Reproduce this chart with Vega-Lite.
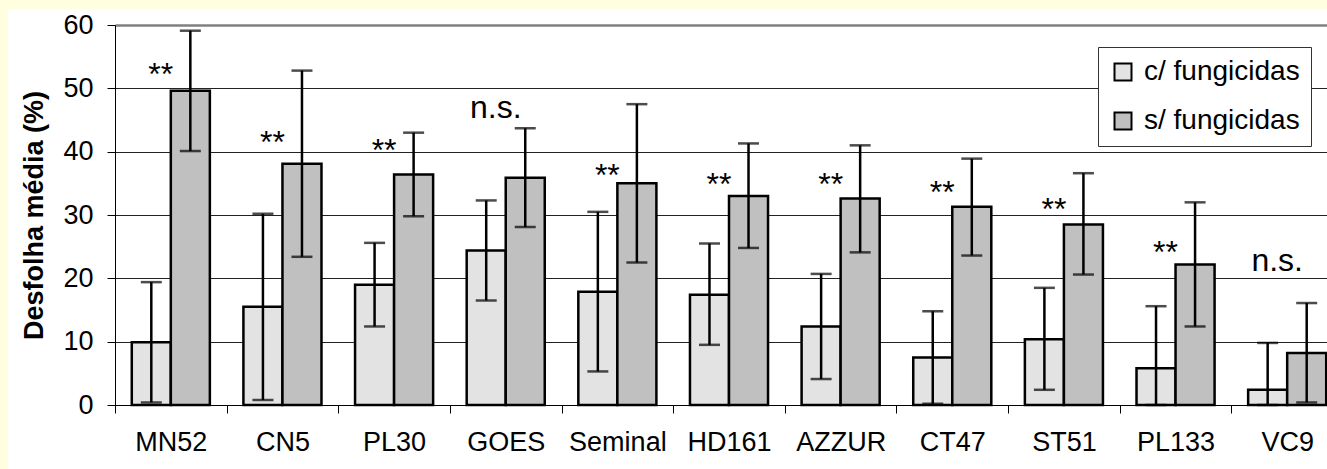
{
  "$schema": "https://vega.github.io/schema/vega-lite/v6.json",
  "width": 1319,
  "height": 460,
  "autosize": {"type": "none"},
  "padding": {"left": 8, "top": 9, "right": 0, "bottom": 0},
  "background": "#FFFFE0",
  "config": {
    "font": "Liberation Sans",
    "view": {"fill": "white", "stroke": null},
    "axis": {
      "domainColor": "black",
      "domainWidth": 1,
      "tickColor": "black",
      "tickWidth": 1,
      "tickSize": 8,
      "labelFont": "Liberation Sans",
      "labelFontSize": 27,
      "labelColor": "black",
      "titleFont": "Liberation Sans",
      "titleColor": "black"
    }
  },
  "datasets": {
    "barras": [
      {"cultivar": "MN52", "trat": "c/ fungicidas", "media": 9.9, "min": 0.4, "max": 19.4},
      {"cultivar": "MN52", "trat": "s/ fungicidas", "media": 49.6, "min": 40.1, "max": 59.1},
      {"cultivar": "CN5", "trat": "c/ fungicidas", "media": 15.5, "min": 0.8, "max": 30.2},
      {"cultivar": "CN5", "trat": "s/ fungicidas", "media": 38.1, "min": 23.4, "max": 52.8},
      {"cultivar": "PL30", "trat": "c/ fungicidas", "media": 19.0, "min": 12.4, "max": 25.6},
      {"cultivar": "PL30", "trat": "s/ fungicidas", "media": 36.4, "min": 29.8, "max": 43.0},
      {"cultivar": "GOES", "trat": "c/ fungicidas", "media": 24.4, "min": 16.5, "max": 32.3},
      {"cultivar": "GOES", "trat": "s/ fungicidas", "media": 35.9, "min": 28.1, "max": 43.7},
      {"cultivar": "Seminal", "trat": "c/ fungicidas", "media": 17.9, "min": 5.3, "max": 30.5},
      {"cultivar": "Seminal", "trat": "s/ fungicidas", "media": 35.0, "min": 22.5, "max": 47.5},
      {"cultivar": "HD161", "trat": "c/ fungicidas", "media": 17.4, "min": 9.5, "max": 25.5},
      {"cultivar": "HD161", "trat": "s/ fungicidas", "media": 33.0, "min": 24.8, "max": 41.3},
      {"cultivar": "AZZUR", "trat": "c/ fungicidas", "media": 12.4, "min": 4.1, "max": 20.7},
      {"cultivar": "AZZUR", "trat": "s/ fungicidas", "media": 32.6, "min": 24.1, "max": 41.0},
      {"cultivar": "CT47", "trat": "c/ fungicidas", "media": 7.5, "min": 0.2, "max": 14.8},
      {"cultivar": "CT47", "trat": "s/ fungicidas", "media": 31.3, "min": 23.6, "max": 38.9},
      {"cultivar": "ST51", "trat": "c/ fungicidas", "media": 10.4, "min": 2.4, "max": 18.5},
      {"cultivar": "ST51", "trat": "s/ fungicidas", "media": 28.5, "min": 20.6, "max": 36.6},
      {"cultivar": "PL133", "trat": "c/ fungicidas", "media": 5.8, "min": 0, "max": 15.6},
      {"cultivar": "PL133", "trat": "s/ fungicidas", "media": 22.2, "min": 12.4, "max": 32.0},
      {"cultivar": "VC9", "trat": "c/ fungicidas", "media": 2.4, "min": 0, "max": 9.8},
      {"cultivar": "VC9", "trat": "s/ fungicidas", "media": 8.2, "min": 0.4, "max": 16.1}
    ],
    "significancia": [
      {"cultivar": "MN52", "sig": "**", "posicao": 50.6},
      {"cultivar": "CN5", "sig": "**", "posicao": 39.8},
      {"cultivar": "PL30", "sig": "**", "posicao": 38.5},
      {"cultivar": "GOES", "sig": "n.s.", "posicao": 45.3},
      {"cultivar": "Seminal", "sig": "**", "posicao": 34.6},
      {"cultivar": "HD161", "sig": "**", "posicao": 33.2},
      {"cultivar": "AZZUR", "sig": "**", "posicao": 33.2},
      {"cultivar": "CT47", "sig": "**", "posicao": 31.9},
      {"cultivar": "ST51", "sig": "**", "posicao": 29.2},
      {"cultivar": "PL133", "sig": "**", "posicao": 22.4},
      {"cultivar": "VC9", "sig": "n.s.", "posicao": 21.2}
    ]
  },
  "layer": [
    {
      "data": {"name": "barras"},
      "mark": {"type": "bar", "stroke": "black", "strokeWidth": 2.5},
      "encoding": {
        "x": {
          "field": "cultivar",
          "type": "nominal",
          "scale": {
            "domain": ["MN52", "CN5", "PL30", "GOES", "Seminal", "HD161", "AZZUR", "CT47", "ST51", "PL133", "VC9"],
            "range": [107, 1335],
            "paddingInner": 0,
            "paddingOuter": 0
          },
          "axis": {
            "title": null,
            "offset": -64,
            "tickBand": "extent",
            "labelAngle": 0,
            "labelPadding": 16,
            "grid": false
          }
        },
        "xOffset": {
          "field": "trat",
          "type": "nominal",
          "scale": {"paddingInner": 0, "paddingOuter": 0.43}
        },
        "y": {
          "field": "media",
          "type": "quantitative",
          "scale": {"domain": [0, 60], "range": [396, 16], "nice": false},
          "axis": {
            "title": "Desfolha média (%)",
            "titleFontSize": 27,
            "titleFontWeight": "bold",
            "titlePadding": 14,
            "offset": -107,
            "values": [0, 10, 20, 30, 40, 50, 60],
            "labelPadding": 14,
            "grid": true,
            "gridColor": {"condition": {"test": "datum.value == 60", "value": "#808080"}, "value": "#222222"},
            "gridWidth": {"condition": {"test": "datum.value == 60", "value": 2.5}, "value": 1}
          }
        },
        "fill": {
          "field": "trat",
          "type": "nominal",
          "scale": {"domain": ["c/ fungicidas", "s/ fungicidas"], "range": ["#E3E3E3", "#C0C0C0"]},
          "legend": {
            "title": null,
            "orient": "none",
            "legendX": 1090,
            "legendY": 38,
            "symbolType": "square",
            "symbolSize": 289,
            "symbolStrokeColor": "black",
            "symbolStrokeWidth": 2,
            "labelFontSize": 28,
            "labelColor": "black",
            "labelOffset": 7,
            "labelLimit": 400,
            "fillColor": "white",
            "strokeColor": "#333333",
            "padding": 11,
            "rowPadding": 21
          }
        }
      }
    },
    {
      "data": {"name": "barras"},
      "mark": {"type": "rule", "color": "black", "strokeWidth": 2.5},
      "encoding": {
        "x": {"field": "cultivar", "type": "nominal"},
        "xOffset": {"field": "trat", "type": "nominal"},
        "y": {"field": "min", "type": "quantitative"},
        "y2": {"field": "max"}
      }
    },
    {
      "data": {"name": "barras"},
      "mark": {"type": "tick", "orient": "horizontal", "color": "black", "size": 21, "thickness": 2.5},
      "encoding": {
        "x": {"field": "cultivar", "type": "nominal"},
        "xOffset": {"field": "trat", "type": "nominal"},
        "y": {"field": "min", "type": "quantitative"}
      }
    },
    {
      "data": {"name": "barras"},
      "mark": {"type": "tick", "orient": "horizontal", "color": "black", "size": 21, "thickness": 2.5},
      "encoding": {
        "x": {"field": "cultivar", "type": "nominal"},
        "xOffset": {"field": "trat", "type": "nominal"},
        "y": {"field": "max", "type": "quantitative"}
      }
    },
    {
      "data": {"name": "significancia"},
      "mark": {"type": "text", "fontSize": 32, "dx": -10, "align": "center", "baseline": "alphabetic", "color": "black"},
      "encoding": {
        "x": {"field": "cultivar", "type": "nominal"},
        "y": {"field": "posicao", "type": "quantitative"},
        "text": {"field": "sig"}
      }
    }
  ]
}
